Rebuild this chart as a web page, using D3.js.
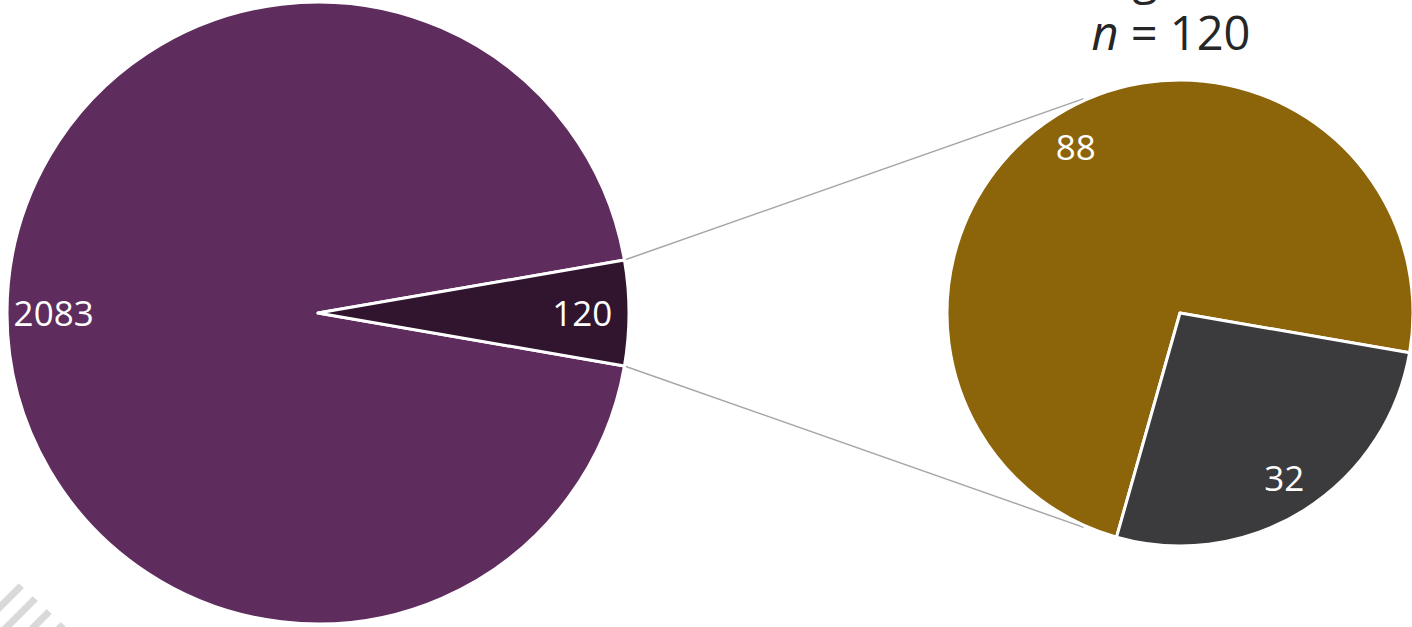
<!DOCTYPE html>
<html>
<head>
<meta charset="utf-8">
<script src="https://cdn.jsdelivr.net/npm/d3@7"></script>
<style>
  html, body { margin: 0; padding: 0; background: #fff; }
  svg { display: block; font-family: "Open Sans", sans-serif; }
</style>
</head>
<body>
<svg id="chart"></svg>
<script>
// data
const mainLabels = ["Other", "Group"];
const mainValues = [2083, 120];
const subLabels = ["A", "B"];
const subValues = [88, 32];
const subTitle = "Indigenous";
const subN = 120;

const mainColors = ["#5e2d5d", "#31152f"];
const subColors = ["#8c640a", "#3b3b3d"];

const width = 1412;
const height = 627;

const svg = d3.select("#chart")
    .attr("width", width)
    .attr("height", height)
    .attr("viewBox", [0, 0, width, height]);

// background stripes bottom-left
const defs = svg.append("defs");
defs.append("clipPath").attr("id", "stripeClip")
  .append("path")
    .attr("d", "M0,566 L66,627 L0,627 Z");
const stripes = svg.append("g").attr("clip-path", "url(#stripeClip)");
d3.range(0, 8).forEach(i => {
  const x0 = -60 + i * 19 * Math.SQRT2;
  stripes.append("line")
    .attr("x1", x0).attr("y1", 627 + 40)
    .attr("x2", x0 + 120).attr("y2", 627 - 80)
    .attr("stroke", "#d9d9d9")
    .attr("stroke-width", 7);
});

// main pie
const mainC = [318, 313];
const mainR = 311;
const mainTotal = d3.sum(mainValues);
const th1 = mainValues[0] / mainTotal * 2 * Math.PI;
const th2 = mainValues[1] / mainTotal * 2 * Math.PI;
const mainStart = Math.PI / 2 - th1 - th2 / 2;

const mainPie = d3.pie().sort(null)
    .startAngle(mainStart).endAngle(mainStart + 2 * Math.PI);
const mainArcs = mainPie(mainValues);

const arcMain = d3.arc().innerRadius(0).outerRadius(mainR);
const labelMain = d3.arc().innerRadius(mainR * 0.85).outerRadius(mainR * 0.85);

// secondary pie
const subC = [1180, 313];
const subR = 233;
const subTotal = d3.sum(subValues);
const grayStart = Math.PI / 2 + th2 / 2;
const goldSpan = subValues[0] / subTotal * 2 * Math.PI;
const subStart = grayStart - goldSpan;
const subPie = d3.pie().sort(null)
    .startAngle(subStart).endAngle(subStart + 2 * Math.PI);
const subArcs = subPie(subValues);
const arcSub = d3.arc().innerRadius(0).outerRadius(subR);
const labelSub = d3.arc().innerRadius(subR * 0.84).outerRadius(subR * 0.84);

// connector lines
const pt = (c, r, a) => [c[0] + r * Math.sin(a), c[1] - r * Math.cos(a)];
const a1 = mainArcs[1].startAngle, a2 = mainArcs[1].endAngle;
const subA1 = -24.2 * Math.PI / 180, subA2 = Math.PI - subA1;
[[pt(mainC, mainR, a1), pt(subC, subR + 2, subA1)],
 [pt(mainC, mainR, a2), pt(subC, subR + 2, subA2)]].forEach(([p, q]) => {
  svg.append("line")
    .attr("x1", p[0]).attr("y1", p[1])
    .attr("x2", q[0]).attr("y2", q[1])
    .attr("stroke", "#a6a6a6")
    .attr("stroke-width", 1.5);
});

const gMain = svg.append("g").attr("transform", `translate(${mainC})`);
gMain.selectAll("path")
  .data(mainArcs)
  .join("path")
    .attr("d", arcMain)
    .attr("fill", (d, i) => mainColors[i])
    .attr("stroke", "#fff")
    .attr("stroke-width", 3)
    .attr("stroke-linejoin", "round");
gMain.selectAll("text")
  .data(mainArcs)
  .join("text")
    .attr("transform", d => `translate(${labelMain.centroid(d)})`)
    .attr("text-anchor", "middle")
    .attr("dy", "0.36em")
    .attr("fill", "#fff")
    .attr("font-size", 35)
    .text(d => d.value);

const gSub = svg.append("g").attr("transform", `translate(${subC})`);
gSub.selectAll("path")
  .data(subArcs)
  .join("path")
    .attr("d", arcSub)
    .attr("fill", (d, i) => subColors[i])
    .attr("stroke", "#fff")
    .attr("stroke-width", 3)
    .attr("stroke-linejoin", "round");
gSub.selectAll("text")
  .data(subArcs)
  .join("text")
    .attr("transform", d => `translate(${labelSub.centroid(d)})`)
    .attr("text-anchor", "middle")
    .attr("dy", "0.36em")
    .attr("fill", "#fff")
    .attr("font-size", 35)
    .text(d => d.value);

// title above secondary pie
const title = svg.append("text")
    .attr("x", 1171)
    .attr("text-anchor", "middle")
    .attr("fill", "#262626")
    .attr("font-size", 47);
title.append("tspan").attr("x", 1171).attr("y", -6).text(subTitle);
const line2 = title.append("tspan").attr("x", 1171).attr("y", 50);
line2.append("tspan").attr("font-style", "italic").text("n");
line2.append("tspan").text(" = " + subN);
</script>
</body>
</html>
